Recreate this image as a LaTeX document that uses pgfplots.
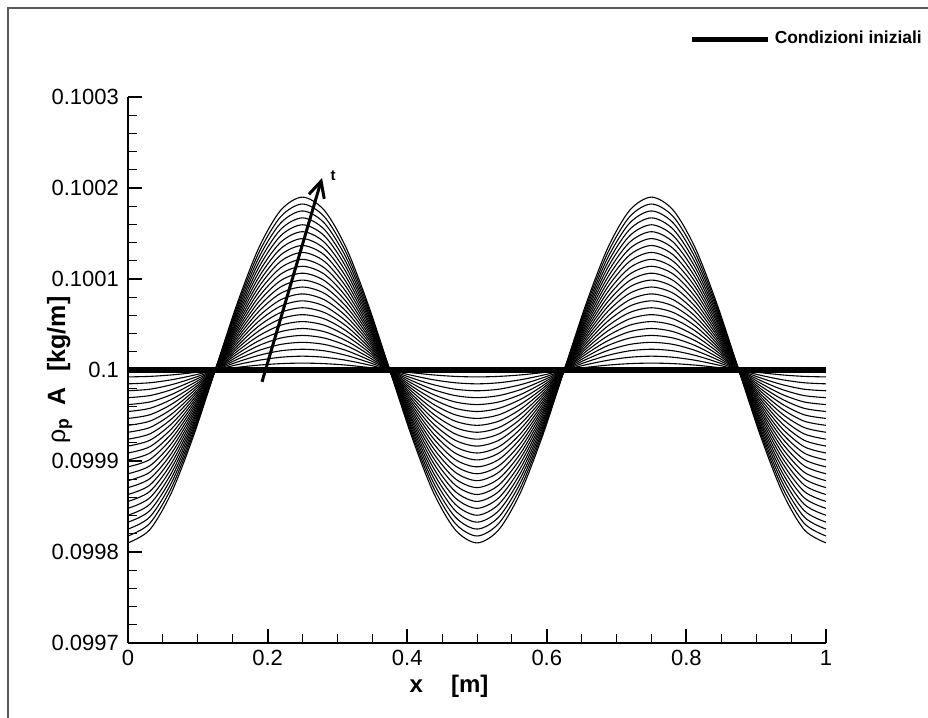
\documentclass[border=0pt]{standalone}
\usepackage{fontspec}
\setmainfont{Liberation Sans}
\usepackage{pgfplots}
\usepackage{pgfplotstable}
\pgfplotsset{compat=1.18}
\usetikzlibrary{arrows.meta}

\begin{document}
% rho_p A along x, one column per time level
\pgfplotstableread{
x y1 y2 y3 y4 y5 y6 y7 y8 y9 y10 y11 y12 y13 y14 y15 y16 y17 y18 y19 y20 y21 y22 y23 y24 y25
0.00000 0.0999924 0.0999848 0.0999772 0.0999696 0.0999620 0.0999544 0.0999468 0.0999392 0.0999316 0.0999240 0.0999164 0.0999088 0.0999012 0.0998936 0.0998860 0.0998784 0.0998708 0.0998632 0.0998556 0.0998480 0.0998404 0.0998328 0.0998252 0.0998176 0.0998100
0.03125 0.0999930 0.0999860 0.0999789 0.0999719 0.0999649 0.0999579 0.0999508 0.0999438 0.0999368 0.0999298 0.0999228 0.0999157 0.0999087 0.0999017 0.0998947 0.0998877 0.0998806 0.0998736 0.0998666 0.0998596 0.0998525 0.0998455 0.0998385 0.0998315 0.0998245
0.06250 0.0999946 0.0999893 0.0999839 0.0999785 0.0999731 0.0999678 0.0999624 0.0999570 0.0999516 0.0999463 0.0999409 0.0999355 0.0999301 0.0999248 0.0999194 0.0999140 0.0999086 0.0999033 0.0998979 0.0998925 0.0998871 0.0998818 0.0998764 0.0998710 0.0998656
0.09375 0.0999971 0.0999942 0.0999913 0.0999884 0.0999855 0.0999825 0.0999796 0.0999767 0.0999738 0.0999709 0.0999680 0.0999651 0.0999622 0.0999593 0.0999564 0.0999535 0.0999506 0.0999476 0.0999447 0.0999418 0.0999389 0.0999360 0.0999331 0.0999302 0.0999273
0.12500 0.1 0.1 0.1 0.1 0.1 0.1 0.1 0.1 0.1 0.1 0.1 0.1 0.1 0.1 0.1 0.1 0.1 0.1 0.1 0.1 0.1 0.1 0.1 0.1 0.1
0.15625 0.1000029 0.1000058 0.1000087 0.1000116 0.1000145 0.1000175 0.1000204 0.1000233 0.1000262 0.1000291 0.1000320 0.1000349 0.1000378 0.1000407 0.1000436 0.1000465 0.1000494 0.1000524 0.1000553 0.1000582 0.1000611 0.1000640 0.1000669 0.1000698 0.1000727
0.18750 0.1000054 0.1000107 0.1000161 0.1000215 0.1000269 0.1000322 0.1000376 0.1000430 0.1000484 0.1000537 0.1000591 0.1000645 0.1000699 0.1000752 0.1000806 0.1000860 0.1000914 0.1000967 0.1001021 0.1001075 0.1001129 0.1001182 0.1001236 0.1001290 0.1001344
0.21875 0.1000070 0.1000140 0.1000211 0.1000281 0.1000351 0.1000421 0.1000492 0.1000562 0.1000632 0.1000702 0.1000772 0.1000843 0.1000913 0.1000983 0.1001053 0.1001123 0.1001194 0.1001264 0.1001334 0.1001404 0.1001475 0.1001545 0.1001615 0.1001685 0.1001755
0.25000 0.1000076 0.1000152 0.1000228 0.1000304 0.1000380 0.1000456 0.1000532 0.1000608 0.1000684 0.1000760 0.1000836 0.1000912 0.1000988 0.1001064 0.1001140 0.1001216 0.1001292 0.1001368 0.1001444 0.1001520 0.1001596 0.1001672 0.1001748 0.1001824 0.1001900
0.28125 0.1000070 0.1000140 0.1000211 0.1000281 0.1000351 0.1000421 0.1000492 0.1000562 0.1000632 0.1000702 0.1000772 0.1000843 0.1000913 0.1000983 0.1001053 0.1001123 0.1001194 0.1001264 0.1001334 0.1001404 0.1001475 0.1001545 0.1001615 0.1001685 0.1001755
0.31250 0.1000054 0.1000107 0.1000161 0.1000215 0.1000269 0.1000322 0.1000376 0.1000430 0.1000484 0.1000537 0.1000591 0.1000645 0.1000699 0.1000752 0.1000806 0.1000860 0.1000914 0.1000967 0.1001021 0.1001075 0.1001129 0.1001182 0.1001236 0.1001290 0.1001344
0.34375 0.1000029 0.1000058 0.1000087 0.1000116 0.1000145 0.1000175 0.1000204 0.1000233 0.1000262 0.1000291 0.1000320 0.1000349 0.1000378 0.1000407 0.1000436 0.1000465 0.1000494 0.1000524 0.1000553 0.1000582 0.1000611 0.1000640 0.1000669 0.1000698 0.1000727
0.37500 0.1 0.1 0.1 0.1 0.1 0.1 0.1 0.1 0.1 0.1 0.1 0.1 0.1 0.1 0.1 0.1 0.1 0.1 0.1 0.1 0.1 0.1 0.1 0.1 0.1
0.40625 0.0999971 0.0999942 0.0999913 0.0999884 0.0999855 0.0999825 0.0999796 0.0999767 0.0999738 0.0999709 0.0999680 0.0999651 0.0999622 0.0999593 0.0999564 0.0999535 0.0999506 0.0999476 0.0999447 0.0999418 0.0999389 0.0999360 0.0999331 0.0999302 0.0999273
0.43750 0.0999946 0.0999893 0.0999839 0.0999785 0.0999731 0.0999678 0.0999624 0.0999570 0.0999516 0.0999463 0.0999409 0.0999355 0.0999301 0.0999248 0.0999194 0.0999140 0.0999086 0.0999033 0.0998979 0.0998925 0.0998871 0.0998818 0.0998764 0.0998710 0.0998656
0.46875 0.0999930 0.0999860 0.0999789 0.0999719 0.0999649 0.0999579 0.0999508 0.0999438 0.0999368 0.0999298 0.0999228 0.0999157 0.0999087 0.0999017 0.0998947 0.0998877 0.0998806 0.0998736 0.0998666 0.0998596 0.0998525 0.0998455 0.0998385 0.0998315 0.0998245
0.50000 0.0999924 0.0999848 0.0999772 0.0999696 0.0999620 0.0999544 0.0999468 0.0999392 0.0999316 0.0999240 0.0999164 0.0999088 0.0999012 0.0998936 0.0998860 0.0998784 0.0998708 0.0998632 0.0998556 0.0998480 0.0998404 0.0998328 0.0998252 0.0998176 0.0998100
0.53125 0.0999930 0.0999860 0.0999789 0.0999719 0.0999649 0.0999579 0.0999508 0.0999438 0.0999368 0.0999298 0.0999228 0.0999157 0.0999087 0.0999017 0.0998947 0.0998877 0.0998806 0.0998736 0.0998666 0.0998596 0.0998525 0.0998455 0.0998385 0.0998315 0.0998245
0.56250 0.0999946 0.0999893 0.0999839 0.0999785 0.0999731 0.0999678 0.0999624 0.0999570 0.0999516 0.0999463 0.0999409 0.0999355 0.0999301 0.0999248 0.0999194 0.0999140 0.0999086 0.0999033 0.0998979 0.0998925 0.0998871 0.0998818 0.0998764 0.0998710 0.0998656
0.59375 0.0999971 0.0999942 0.0999913 0.0999884 0.0999855 0.0999825 0.0999796 0.0999767 0.0999738 0.0999709 0.0999680 0.0999651 0.0999622 0.0999593 0.0999564 0.0999535 0.0999506 0.0999476 0.0999447 0.0999418 0.0999389 0.0999360 0.0999331 0.0999302 0.0999273
0.62500 0.1 0.1 0.1 0.1 0.1 0.1 0.1 0.1 0.1 0.1 0.1 0.1 0.1 0.1 0.1 0.1 0.1 0.1 0.1 0.1 0.1 0.1 0.1 0.1 0.1
0.65625 0.1000029 0.1000058 0.1000087 0.1000116 0.1000145 0.1000175 0.1000204 0.1000233 0.1000262 0.1000291 0.1000320 0.1000349 0.1000378 0.1000407 0.1000436 0.1000465 0.1000494 0.1000524 0.1000553 0.1000582 0.1000611 0.1000640 0.1000669 0.1000698 0.1000727
0.68750 0.1000054 0.1000107 0.1000161 0.1000215 0.1000269 0.1000322 0.1000376 0.1000430 0.1000484 0.1000537 0.1000591 0.1000645 0.1000699 0.1000752 0.1000806 0.1000860 0.1000914 0.1000967 0.1001021 0.1001075 0.1001129 0.1001182 0.1001236 0.1001290 0.1001344
0.71875 0.1000070 0.1000140 0.1000211 0.1000281 0.1000351 0.1000421 0.1000492 0.1000562 0.1000632 0.1000702 0.1000772 0.1000843 0.1000913 0.1000983 0.1001053 0.1001123 0.1001194 0.1001264 0.1001334 0.1001404 0.1001475 0.1001545 0.1001615 0.1001685 0.1001755
0.75000 0.1000076 0.1000152 0.1000228 0.1000304 0.1000380 0.1000456 0.1000532 0.1000608 0.1000684 0.1000760 0.1000836 0.1000912 0.1000988 0.1001064 0.1001140 0.1001216 0.1001292 0.1001368 0.1001444 0.1001520 0.1001596 0.1001672 0.1001748 0.1001824 0.1001900
0.78125 0.1000070 0.1000140 0.1000211 0.1000281 0.1000351 0.1000421 0.1000492 0.1000562 0.1000632 0.1000702 0.1000772 0.1000843 0.1000913 0.1000983 0.1001053 0.1001123 0.1001194 0.1001264 0.1001334 0.1001404 0.1001475 0.1001545 0.1001615 0.1001685 0.1001755
0.81250 0.1000054 0.1000107 0.1000161 0.1000215 0.1000269 0.1000322 0.1000376 0.1000430 0.1000484 0.1000537 0.1000591 0.1000645 0.1000699 0.1000752 0.1000806 0.1000860 0.1000914 0.1000967 0.1001021 0.1001075 0.1001129 0.1001182 0.1001236 0.1001290 0.1001344
0.84375 0.1000029 0.1000058 0.1000087 0.1000116 0.1000145 0.1000175 0.1000204 0.1000233 0.1000262 0.1000291 0.1000320 0.1000349 0.1000378 0.1000407 0.1000436 0.1000465 0.1000494 0.1000524 0.1000553 0.1000582 0.1000611 0.1000640 0.1000669 0.1000698 0.1000727
0.87500 0.1 0.1 0.1 0.1 0.1 0.1 0.1 0.1 0.1 0.1 0.1 0.1 0.1 0.1 0.1 0.1 0.1 0.1 0.1 0.1 0.1 0.1 0.1 0.1 0.1
0.90625 0.0999971 0.0999942 0.0999913 0.0999884 0.0999855 0.0999825 0.0999796 0.0999767 0.0999738 0.0999709 0.0999680 0.0999651 0.0999622 0.0999593 0.0999564 0.0999535 0.0999506 0.0999476 0.0999447 0.0999418 0.0999389 0.0999360 0.0999331 0.0999302 0.0999273
0.93750 0.0999946 0.0999893 0.0999839 0.0999785 0.0999731 0.0999678 0.0999624 0.0999570 0.0999516 0.0999463 0.0999409 0.0999355 0.0999301 0.0999248 0.0999194 0.0999140 0.0999086 0.0999033 0.0998979 0.0998925 0.0998871 0.0998818 0.0998764 0.0998710 0.0998656
0.96875 0.0999930 0.0999860 0.0999789 0.0999719 0.0999649 0.0999579 0.0999508 0.0999438 0.0999368 0.0999298 0.0999228 0.0999157 0.0999087 0.0999017 0.0998947 0.0998877 0.0998806 0.0998736 0.0998666 0.0998596 0.0998525 0.0998455 0.0998385 0.0998315 0.0998245
1.00000 0.0999924 0.0999848 0.0999772 0.0999696 0.0999620 0.0999544 0.0999468 0.0999392 0.0999316 0.0999240 0.0999164 0.0999088 0.0999012 0.0998936 0.0998860 0.0998784 0.0998708 0.0998632 0.0998556 0.0998480 0.0998404 0.0998328 0.0998252 0.0998176 0.0998100
}\data

\begin{tikzpicture}
\path[use as bounding box] (0,0) rectangle (464pt,-359pt);
% outer frame (top and left only)
\draw[gray!70!black, line width=0.8pt] (4pt,-359pt) -- (4pt,-4pt) -- (464pt,-4pt);

\begin{axis}[
    at={(64pt,-321.5pt)},
    anchor=south west,
    scale only axis,
    width=349pt,
    height=273pt,
    xmin=0, xmax=1,
    ymin=0.0997, ymax=0.1003,
    axis lines*=left,
    axis line style={line width=1.3pt},
    tick align=inside,
    xtick={0,0.2,0.4,0.6,0.8,1},
    xticklabels={0,0.2,0.4,0.6,0.8,1},
    ytick={0.0997,0.0998,0.0999,0.1,0.1001,0.1002,0.1003},
    yticklabels={0.0997,0.0998,0.0999,0.1,0.1001,0.1002,0.1003},
    scaled y ticks=false,
    minor x tick num=3,
    minor y tick num=4,
    major tick length=7pt,
    minor tick length=4.3pt,
    major tick style={line width=1pt, black},
    minor tick style={line width=0.5pt, black},
    /pgf/number format/assume math mode=true,
    ticklabel style={font=\fontsize{11}{13}\selectfont},
    xticklabel style={yshift=0pt},
    yticklabel style={xshift=-1pt},
    xlabel={\textbf{x}\hspace{14pt}\textbf{[m]}},
    xlabel style={at={(axis description cs:0.46,-0.079)}, anchor=center,
      font=\fontsize{12}{14}\selectfont},
    ylabel={ρ\textsubscript{\textbf{p}}\hspace{6pt}\textbf{A}\hspace{8pt}\textbf{[kg/m]}},
    ylabel style={at={(axis description cs:-0.098,0.5)}, anchor=center,
      font=\fontsize{12.5}{14}\selectfont},
    legend style={at={(axis description cs:1.152,1.106)}, anchor=east,
      draw=none, fill=none, font=\bfseries\fontsize{8.7}{10}\selectfont},
    legend cell align=left,
    legend image code/.code={\draw[line width=2.6pt] (0pt,0pt) -- (38pt,0pt);},
    clip=true,
  ]

  \pgfplotsinvokeforeach{1,...,25}{
    \addplot[black, line width=0.55pt, smooth, forget plot] table[x=x, y=y#1] {\data};
  }

  % initial condition
  \addplot[black, line width=2.6pt] coordinates {(0,0.1) (1,0.1)};
  \addlegendentry{Condizioni iniziali}

  % time arrow
  \draw[-{Straight Barb[length=8pt, width=8pt]}, line width=1.5pt]
    (axis cs:0.192,0.099987) -- (axis cs:0.278,0.100211);
  \node[font=\bfseries\fontsize{7.5}{8}\selectfont] at (axis cs:0.294,0.100214) {t};

\end{axis}
\end{tikzpicture}
\end{document}
